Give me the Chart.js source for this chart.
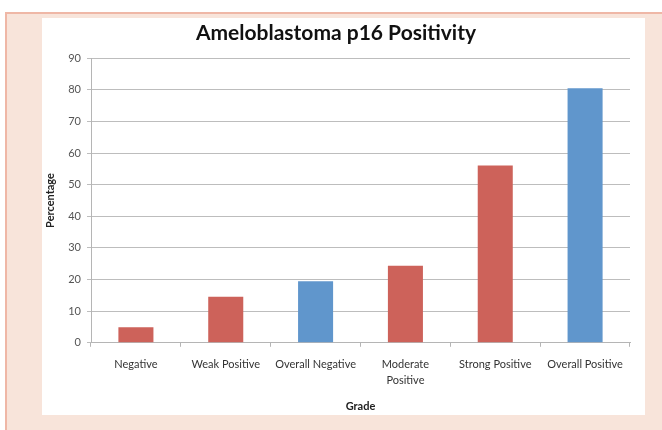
<!DOCTYPE html>
<html>
<head>
<meta charset="utf-8">
<script src="https://cdn.jsdelivr.net/npm/chart.js@4.4.1/dist/chart.umd.min.js"></script>
<style>
  html, body { margin: 0; padding: 0; background: #ffffff; }
  #frame {
    position: absolute; left: 5px; top: 12px; width: 657px; height: 418px;
    background: #f8e4da; border-top: 2px solid #efb7a6; border-left: 2px solid #efb7a6;
    box-sizing: border-box;
  }
  #box {
    position: absolute; left: 42px; top: 18px; width: 603px; height: 397px;
    background: #ffffff;
  }
  canvas { display: block; }
</style>
</head>
<body>
<div id="frame"></div>
<div id="box"><canvas id="grafico" width="603" height="397" style="width:603px;height:397px"></canvas></div>
<script>
const categorias = ["Negative", "Weak Positive", "Overall Negative", ["Moderate", "Positive"], "Strong Positive", "Overall Positive"];
const porcentajes = [4.9, 14.6, 19.5, 24.4, 56.1, 80.5];
const colores = ["#cd625a", "#cd625a", "#6096cc", "#cd625a", "#cd625a", "#6096cc"];
const ticksY = [0, 10, 20, 30, 40, 50, 60, 70, 80, 90];

const fuente = "Lato, 'Open Sans', sans-serif";

const ctx = document.getElementById("grafico");
const grafico = new Chart(ctx, {
  type: "bar",
  data: {
    labels: categorias,
    datasets: [{
      label: "Percentage",
      data: porcentajes,
      backgroundColor: colores,
      borderWidth: 0,
      categoryPercentage: 1,
      barPercentage: 0.39
    }]
  },
  options: {
    responsive: false,
    animation: false,
    devicePixelRatio: 1,
    layout: { padding: { left: 0, right: 15, top: 0, bottom: 2 } },
    plugins: {
      legend: { display: false },
      tooltip: { enabled: false },
      title: {
        display: true,
        text: "Ameloblastoma p16 Positivity",
        color: "#111111",
        font: { family: fuente, size: 21, weight: "bold" },
        padding: { top: 3, bottom: 12 }
      }
    },
    scales: {
      x: {
        grid: { offset: true, drawOnChartArea: false, drawTicks: true, tickLength: 4, color: "#b5b5b5" },
        border: { color: "#b5b5b5" },
        ticks: { color: "#333333", font: { family: fuente, size: 11, lineHeight: 1.5 }, padding: 9, maxRotation: 0, autoSkip: false },
        title: { display: true, text: "Grade", color: "#222222", font: { family: fuente, size: 11, weight: "bold", lineHeight: 1.2 }, padding: { top: 2, bottom: 0 } }
      },
      y: {
        min: 0,
        max: 90,
        afterBuildTicks: (scale) => { scale.ticks = ticksY.map(v => ({ value: v })); },
        afterFit: (scale) => { scale.width = 49; },
        grid: { color: "#bdbdbd", tickLength: 4, drawTicks: true },
        border: { color: "#b5b5b5" },
        ticks: { color: "#555555", font: { family: fuente, size: 11 }, padding: 6 },
        title: { display: true, text: "Percentage", color: "#222222", font: { family: fuente, size: 11, weight: "bold" }, padding: { top: 2, bottom: 0 } }
      }
    }
  }
});
</script>
</body>
</html>
